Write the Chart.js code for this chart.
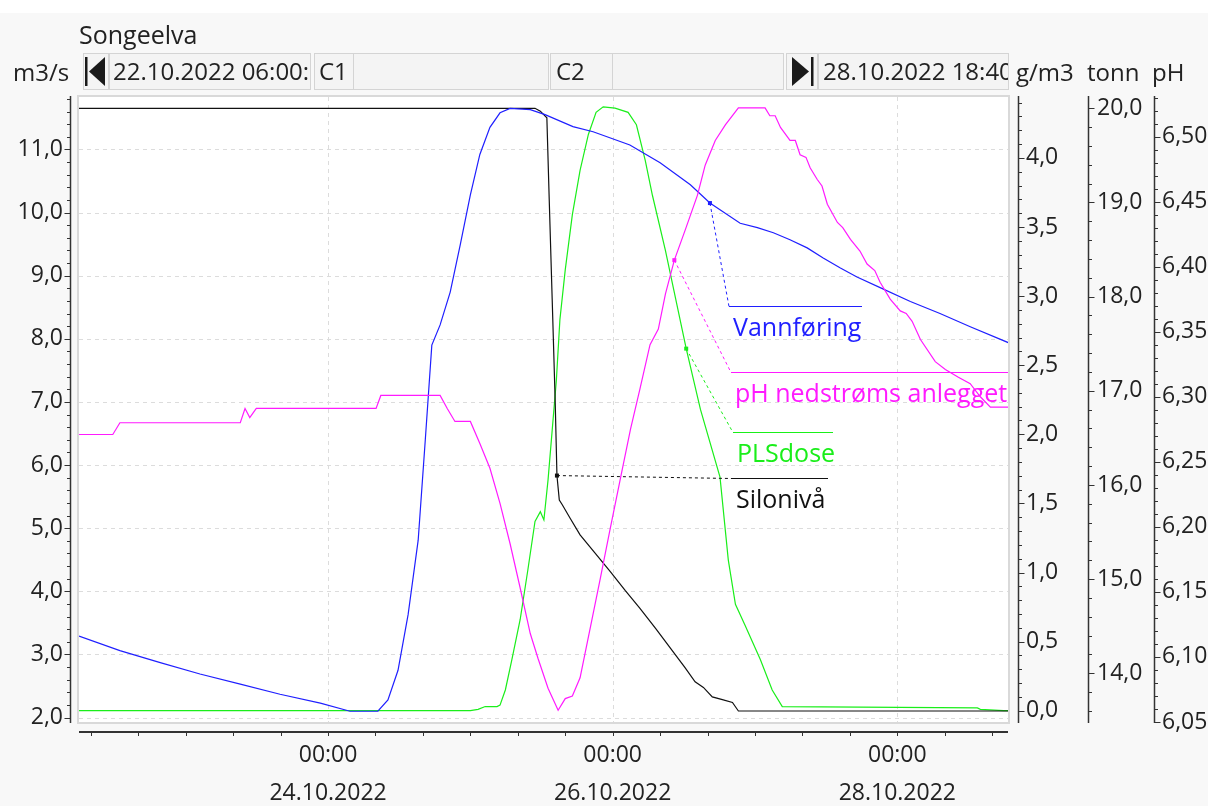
<!DOCTYPE html>
<html>
<head>
<meta charset="utf-8">
<script src="https://cdn.jsdelivr.net/npm/chart.js@4.4.1/dist/chart.umd.min.js"></script>
<style>
  body { margin: 0; background: #f8f8f8; font-family: "Open Sans", sans-serif; color: #222; }
  #wrap { position: relative; width: 1208px; height: 806px; overflow: hidden; }
  #topstrip { position: absolute; left: 0; top: 0; width: 1208px; height: 13px; background: #fff; }
  canvas { position: absolute; left: 0; top: 0; }
  .lbl { position: absolute; font-size: 24px; line-height: 36px; white-space: nowrap; }
  .box { position: absolute; top: 53px; height: 37px; box-sizing: border-box; background: #f4f4f4;
         border: 1px solid #d4d4d4; overflow: hidden; white-space: nowrap; font-size: 24px; line-height: 34px; }
  .box svg { position: absolute; left: 0; top: 0; }
</style>
</head>
<body>
<div id="wrap">
  <div id="topstrip"></div>
  <canvas id="chart" width="1208" height="806"></canvas>

  <div class="lbl" style="left:79px; top:16px; font-size:25px;">Songeelva</div>
  <div class="lbl" style="left:13px; top:54px;">m3/s</div>

  <div class="box" style="left:83px; width:26px;">
    <svg width="26" height="37"><rect x="1" y="3" width="2.5" height="29" fill="#1a1a1a"/><polygon points="21,3 21,32 5,17.5" fill="#1a1a1a"/></svg>
  </div>
  <div class="box" style="left:109px; width:202px; padding-left:3px;">22.10.2022 06:00:00</div>
  <div class="box" style="left:314px; width:40px; padding-left:4px;">C1</div>
  <div class="box" style="left:353px; width:196px;"></div>
  <div class="box" style="left:550px; width:63px; padding-left:5px;">C2</div>
  <div class="box" style="left:612px; width:172px;"></div>
  <div class="box" style="left:786px; width:32px;">
    <svg width="32" height="37"><polygon points="5,3 5,32 22,17.5" fill="#1a1a1a"/><rect x="24" y="3" width="2.5" height="29" fill="#1a1a1a"/></svg>
  </div>
  <div class="box" style="left:818px; width:191px; padding-left:4px;">28.10.2022 18:40:00</div>

  <div class="lbl" style="left:1016px; top:54px;">g/m3</div>
  <div class="lbl" style="left:1087px; top:54px;">tonn</div>
  <div class="lbl" style="left:1152px; top:54px;">pH</div>
</div>

<script>
// time axis: hours since 22.10.2022 00:00
const xMin = 6;          // 22.10.2022 06:00
const xMax = 162.667;    // 28.10.2022 18:40
const xTickHours = [48, 96, 144];
const xTickTimes = ["00:00", "00:00", "00:00"];
const xTickDates = ["24.10.2022", "26.10.2022", "28.10.2022"];

// y axes tick labels
const flowTicks = [2, 3, 4, 5, 6, 7, 8, 9, 10, 11];
const doseTicks = [0, 0.5, 1, 1.5, 2, 2.5, 3, 3.5, 4];
const siloTicks = [14, 15, 16, 17, 18, 19, 20];
const phTicks = [6.05, 6.10, 6.15, 6.20, 6.25, 6.30, 6.35, 6.40, 6.45, 6.50];

// Vannføring (m3/s)
const flowHours = [6.0, 12.9, 19.7, 26.4, 33.2, 39.9, 46.7, 51.7, 56.4, 58.1, 59.8, 61.5, 63.2, 64.4, 65.5,
  66.9, 68.6, 70.3, 72.0, 73.6, 75.3, 77.0, 78.7, 82.1, 84.6, 89.3, 92.7, 98.9, 104.0, 109.1, 112.4,
  117.5, 120.4, 123.1, 125.9, 128.8, 131.5, 134.4, 137.2, 141.1, 146.2, 151.2, 156.3, 162.7];
const flowValues = [3.29, 3.06, 2.87, 2.69, 2.53, 2.37, 2.23, 2.10, 2.10, 2.28, 2.75, 3.63, 4.81, 6.40, 7.90,
  8.22, 8.74, 9.49, 10.28, 10.92, 11.35, 11.58, 11.65, 11.63, 11.55, 11.36, 11.28, 11.07, 10.79, 10.44, 10.15,
  9.83, 9.76, 9.68, 9.57, 9.44, 9.28, 9.12, 8.98, 8.81, 8.59, 8.40, 8.19, 7.94];

// pH nedstrøms anlegget (pH)
const phHours = [6.0, 11.7, 12.9, 33.2, 34.0, 34.8, 35.9, 56.1, 56.9, 66.9, 68.1, 69.4, 72.0, 73.6, 75.3,
  77.0, 78.7, 80.4, 82.1, 83.4, 85.1, 86.8, 88.0, 89.2, 90.5, 92.2, 93.9, 95.6, 97.3, 99.0, 100.6, 102.3,
  103.7, 104.9, 106.4, 108.3, 110.3, 111.6, 113.3, 115.0, 117.2, 121.7, 122.5, 123.4, 124.3, 125.9, 126.8,
  127.6, 128.6, 129.3, 130.5, 131.3, 132.2, 133.9, 134.8, 136.1, 137.7, 138.9, 140.2, 141.1, 142.8, 144.5,
  145.5, 146.5, 147.9, 150.4, 152.1, 154.3, 156.3, 158.0, 159.7, 162.7];
const phValues = [6.271, 6.271, 6.280, 6.280, 6.291, 6.284, 6.291, 6.291, 6.301, 6.301, 6.291, 6.281, 6.281,
  6.264, 6.245, 6.218, 6.187, 6.153, 6.118, 6.099, 6.076, 6.059, 6.068, 6.070, 6.084, 6.122, 6.160, 6.199,
  6.237, 6.275, 6.306, 6.340, 6.352, 6.379, 6.405, 6.429, 6.455, 6.478, 6.497, 6.509, 6.522, 6.522, 6.516,
  6.516, 6.507, 6.497, 6.497, 6.486, 6.484, 6.476, 6.467, 6.462, 6.448, 6.434, 6.430, 6.421, 6.412, 6.402,
  6.397, 6.388, 6.375, 6.366, 6.364, 6.358, 6.344, 6.327, 6.321, 6.315, 6.310, 6.300, 6.292, 6.292];

// PLSdose (g/m3)
const doseHours = [6.0, 72.0, 73.3, 74.5, 76.5, 77.0, 77.9, 79.0, 80.4, 81.7, 82.9, 83.8, 84.4, 85.1, 85.8,
  86.5, 87.1, 88.0, 89.2, 90.5, 91.9, 93.2, 94.4, 96.4, 98.6, 100.0, 101.5, 102.7, 104.9, 108.4, 110.8,
  114.1, 115.5, 116.7, 118.3, 120.9, 122.9, 124.6, 157.5, 158.0, 161.9, 162.7];
const doseValues = [0.00, 0.00, 0.01, 0.03, 0.03, 0.04, 0.15, 0.37, 0.66, 1.02, 1.37, 1.44, 1.38, 1.67, 2.03,
  2.39, 2.83, 3.19, 3.59, 3.91, 4.17, 4.33, 4.37, 4.36, 4.33, 4.24, 3.98, 3.73, 3.33, 2.62, 2.18,
  1.69, 1.09, 0.77, 0.62, 0.37, 0.15, 0.03, 0.02, 0.01, 0.00, 0.00];

// Silonivå (tonn)
const siloHours = [6.0, 82.9, 83.8, 84.9, 85.3, 85.8, 86.3, 86.6, 87.0, 87.5, 88.8, 90.5, 93.0, 95.6, 98.1,
  100.6, 103.2, 105.7, 108.2, 109.9, 111.3, 112.8, 114.5, 116.2, 117.2, 162.7];
const siloValues = [20.0, 20.0, 19.97, 19.90, 19.03, 17.97, 16.90, 16.10, 15.84, 15.79, 15.65, 15.47, 15.28,
  15.08, 14.88, 14.69, 14.48, 14.27, 14.06, 13.91, 13.85, 13.75, 13.72, 13.69, 13.60, 13.60];

// legend labels with the point on the curve they point to
const seriesNames = ["Vannføring", "pH nedstrøms anlegget", "PLSdose", "Silonivå"];
const anchorHours = [112.4, 106.4, 108.4, 86.6];
const anchorValues = [10.15, 6.405, 2.62, 16.10];

const BLUE = "#1f1fff", MAGENTA = "#ff1aff", GREEN = "#1aee1a", BLACK = "#111111";

// where each label sits, relative to the chart area's top-left corner
const labelLayout = [
  { axis: "yq", color: BLUE,    x: 650, y: 209, w: 133, tx: 4 },
  { axis: "yp", color: MAGENTA, x: 652, y: 275, w: 277, tx: 4 },
  { axis: "yc", color: GREEN,   x: 654, y: 335, w: 100, tx: 4 },
  { axis: "yt", color: BLACK,   x: 652, y: 381, w: 97,  tx: 5 }
];

const axisLook = {
  yq: { side: "left",  gap: 9,  minor: 0.2 },
  yc: { side: "right", gap: 10, minor: 0.1 },
  yt: { side: "right", gap: 10, minor: 0.2 },
  yp: { side: "right", gap: 10, minor: 0.01 }
};

const zip = (xs, ys) => xs.map((x, i) => ({ x: x, y: ys[i] }));
const comma = d => v => v.toFixed(d).replace(".", ",");
const setTicks = arr => s => { s.ticks = arr.map(v => ({ value: v })); };

/* -------------------------
   frame, grid, axes, labels
------------------------- */
const decor = {
  id: "decor",
  beforeDraw(chart) {
    const { ctx, chartArea: a } = chart;
    ctx.save();
    ctx.fillStyle = "#fff";
    ctx.fillRect(a.left - 2, a.top - 2, a.width + 4, a.height + 4);
    ctx.strokeStyle = "#d9d9d9";
    ctx.lineWidth = 2;
    ctx.strokeRect(a.left - 1, a.top - 1, a.width + 2, a.height + 2);
    ctx.restore();
  },
  beforeDatasetsDraw(chart) {
    const { ctx, chartArea: a, scales } = chart;
    ctx.save();
    ctx.strokeStyle = "#dcdcdc";
    ctx.lineWidth = 1;
    ctx.setLineDash([4, 4]);
    flowTicks.forEach(v => {
      const y = Math.round(scales.yq.getPixelForValue(v)) + 0.5;
      ctx.beginPath(); ctx.moveTo(a.left, y); ctx.lineTo(a.right, y); ctx.stroke();
    });
    xTickHours.forEach(h => {
      const x = Math.round(scales.x.getPixelForValue(h)) + 0.5;
      ctx.beginPath(); ctx.moveTo(x, a.top); ctx.lineTo(x, a.bottom); ctx.stroke();
    });
    ctx.restore();
  },
  afterDraw(chart) {
    const { ctx, chartArea: a, scales } = chart;
    ctx.save();
    ctx.strokeStyle = "#333";

    // y axes with major/minor ticks
    Object.keys(axisLook).forEach(id => {
      const s = scales[id], look = axisLook[id];
      const left = look.side === "left";
      const lx = Math.round(left ? a.left - look.gap : s.left + look.gap) + 0.5;
      const dir = left ? -1 : 1;
      ctx.lineWidth = 1.5;
      ctx.beginPath(); ctx.moveTo(lx, a.top - 1); ctx.lineTo(lx, a.bottom + 1); ctx.stroke();
      ctx.lineWidth = 1;
      const majors = s.ticks.map(t => t.value);
      const k0 = Math.ceil(s.min / look.minor - 1e-6), k1 = Math.floor(s.max / look.minor + 1e-6);
      for (let k = k0; k <= k1; k++) {
        const v = k * look.minor;
        const major = majors.some(m => Math.abs(m - v) < look.minor / 10);
        const y = Math.round(s.getPixelForValue(v)) + 0.5;
        ctx.beginPath(); ctx.moveTo(lx, y); ctx.lineTo(lx + dir * (major ? 6 : 3.5), y); ctx.stroke();
      }
    });

    // time axis, tick every 8 hours
    const sx = scales.x;
    const ay = a.bottom + 10;
    ctx.lineWidth = 2;
    ctx.beginPath(); ctx.moveTo(a.left, ay); ctx.lineTo(a.right, ay); ctx.stroke();
    ctx.lineWidth = 1;
    for (let k = Math.ceil(sx.min / 8); k <= Math.floor(sx.max / 8); k++) {
      const x = Math.round(sx.getPixelForValue(k * 8)) + 0.5;
      ctx.beginPath(); ctx.moveTo(x, ay); ctx.lineTo(x, ay + 4); ctx.stroke();
    }

    // series labels with leader lines
    ctx.font = "25px 'Open Sans', sans-serif";
    ctx.textBaseline = "alphabetic";
    labelLayout.forEach((L, i) => {
      const px = sx.getPixelForValue(anchorHours[i]);
      const py = scales[L.axis].getPixelForValue(anchorValues[i]);
      const lx = a.left + L.x, ly = a.top + L.y;
      ctx.strokeStyle = L.color;
      ctx.fillStyle = L.color;
      ctx.fillRect(px - 2, py - 2, 4, 4);
      ctx.lineWidth = 1;
      ctx.setLineDash([3, 3]);
      ctx.beginPath(); ctx.moveTo(px, py); ctx.lineTo(lx, ly + 0.5); ctx.stroke();
      ctx.setLineDash([]);
      ctx.lineWidth = 1.2;
      ctx.beginPath(); ctx.moveTo(lx, ly + 0.5); ctx.lineTo(Math.min(lx + L.w, a.right), ly + 0.5); ctx.stroke();
      ctx.fillText(seriesNames[i], lx + L.tx, ly + 30);
    });
    ctx.restore();
  }
};

Chart.defaults.font.family = "'Open Sans', sans-serif";
Chart.defaults.font.size = 23;
Chart.defaults.color = "#222";

const yAxis = (pos, weight, min, max, ticks, digits, width, pad) => ({
  type: "linear", position: pos, weight: weight, min: min, max: max,
  grid: { display: false, drawTicks: false },
  border: { display: false },
  afterBuildTicks: setTicks(ticks),
  afterFit: s => { s.width = width; },
  ticks: { padding: pad, autoSkip: false, callback: comma(digits) }
});

new Chart(document.getElementById("chart"), {
  type: "line",
  data: {
    datasets: [
      { label: seriesNames[1], data: zip(phHours, phValues), yAxisID: "yp", borderColor: MAGENTA },
      { label: seriesNames[0], data: zip(flowHours, flowValues), yAxisID: "yq", borderColor: BLUE },
      { label: seriesNames[3], data: zip(siloHours, siloValues), yAxisID: "yt", borderColor: BLACK },
      { label: seriesNames[2], data: zip(doseHours, doseValues), yAxisID: "yc", borderColor: GREEN }
    ]
  },
  plugins: [decor],
  options: {
    responsive: false,
    animation: false,
    devicePixelRatio: 1,
    layout: { padding: { top: 97, left: 0, right: 0, bottom: 0 } },
    plugins: { legend: { display: false }, tooltip: { enabled: false } },
    elements: { point: { radius: 0 }, line: { tension: 0, borderWidth: 1.2, fill: false } },
    scales: {
      x: {
        type: "linear", position: "bottom", min: xMin, max: xMax,
        grid: { display: false, drawTicks: false },
        border: { display: false },
        afterBuildTicks: setTicks(xTickHours),
        afterFit: s => { s.height = 84; },
        ticks: {
          padding: 14, autoSkip: false, maxRotation: 0,
          font: { size: 23, lineHeight: 1.652 },
          callback: v => {
            const i = xTickHours.indexOf(v);
            return i < 0 ? "" : [xTickTimes[i], xTickDates[i]];
          }
        }
      },
      yq: yAxis("left", 0, 1.93, 11.83, flowTicks, 1, 79, 16),
      yc: yAxis("right", 1, -0.0818, 4.441, doseTicks, 1, 70, 18),
      yt: yAxis("right", 2, 13.483, 20.12, siloTicks, 1, 66, 19),
      yp: yAxis("right", 3, 6.05, 6.5304, phTicks, 2, 64, 18)
    }
  }
});
</script>
</body>
</html>
